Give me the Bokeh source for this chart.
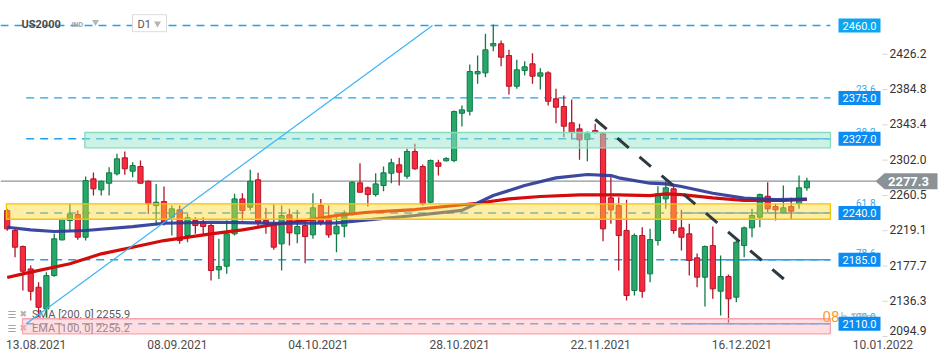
import numpy as np
from bokeh.plotting import figure
from bokeh.models import Range1d, FixedTicker, ColumnDataSource
from bokeh.core.properties import value
from bokeh.embed import file_html
from bokeh.resources import INLINE

# ---------------- data ----------------
open_ = [2242.8, 2219.3, 2200.6, 2174.3, 2152.8, 2127.4, 2166.5, 2208.4, 2231.1, 2238.1,
         2211.5, 2280.0, 2267.1, 2274.9, 2285.9, 2304.7, 2289.0, 2294.5, 2277.2, 2248.7,
         2253.4, 2235.0, 2243.6, 2213.5, 2231.1, 2229.1, 2225.2, 2173.2, 2177.5, 2215.5,
         2256.5, 2246.7, 2278.9, 2231.1, 2225.2, 2203.7, 2237.8, 2215.5, 2225.2, 2214.3,
         2248.7, 2233.1, 2215.5, 2224.4, 2238.9, 2275.3, 2269.5, 2261.6, 2272.2, 2286.6,
         2296.5, 2283.1, 2312.1, 2294.5, 2252.6, 2298.8, 2301.2, 2301.5, 2357.0, 2359.4,
         2403.3, 2404.4, 2436.1, 2438.5, 2424.8, 2388.7, 2407.1, 2415.0, 2400.5, 2404.4,
         2374.0, 2364.9, 2345.8, 2338.7, 2326.2, 2336.7, 2332.9, 2257.7, 2248.7, 2219.4,
         2149.0, 2213.5, 2168.5, 2207.6, 2256.5, 2268.3, 2222.5, 2215.5, 2187.3, 2164.6,
         2201.7, 2148.1, 2165.4, 2141.1, 2201.7, 2222.5, 2235.0, 2259.6, 2247.5, 2240.1,
         2247.5, 2250.7, 2269.5]
high = [2245.0, 2221.3, 2201.7, 2178.3, 2158.7, 2170.4, 2215.5, 2233.5, 2250.7, 2242.8,
        2282.7, 2287.4, 2278.0, 2293.7, 2309.4, 2312.1, 2299.5, 2301.5, 2278.0, 2274.1,
        2271.0, 2248.7, 2248.7, 2238.9, 2235.0, 2235.0, 2227.2, 2209.6, 2231.1, 2262.4,
        2263.1, 2290.6, 2287.1, 2246.0, 2249.9, 2248.7, 2244.8, 2243.6, 2229.1, 2263.1,
        2256.5, 2248.7, 2237.0, 2242.8, 2277.2, 2298.3, 2271.0, 2286.6, 2294.5, 2303.5,
        2304.7, 2315.2, 2321.1, 2296.8, 2302.7, 2302.3, 2305.4, 2360.2, 2366.1, 2414.2,
        2424.8, 2450.2, 2461.1, 2442.4, 2431.4, 2419.7, 2418.1, 2427.5, 2409.8, 2406.3,
        2385.7, 2377.8, 2373.1, 2344.6, 2335.5, 2344.6, 2334.0, 2281.9, 2258.4, 2255.4,
        2215.8, 2223.2, 2221.3, 2271.3, 2277.2, 2272.2, 2243.6, 2227.2, 2192.3, 2201.7,
        2224.0, 2190.0, 2167.7, 2207.6, 2224.0, 2244.8, 2262.8, 2276.0, 2250.7, 2272.2,
        2257.7, 2283.9, 2281.2]
low = [2219.0, 2188.0, 2148.9, 2137.2, 2117.6, 2117.6, 2165.0, 2207.6, 2219.4, 2208.4,
       2207.6, 2260.4, 2260.4, 2260.4, 2283.9, 2284.7, 2281.9, 2274.5, 2238.9, 2225.2,
       2225.2, 2213.5, 2203.7, 2205.6, 2215.5, 2214.0, 2160.7, 2162.6, 2168.5, 2213.5,
       2231.1, 2242.8, 2221.3, 2215.5, 2196.7, 2172.4, 2201.7, 2204.4, 2181.0, 2209.6,
       2225.2, 2210.8, 2193.9, 2211.5, 2237.0, 2264.0, 2247.5, 2259.3, 2265.5, 2274.9,
       2272.2, 2280.0, 2290.6, 2248.7, 2250.7, 2283.9, 2300.3, 2299.5, 2341.4, 2354.3,
       2391.5, 2399.3, 2429.8, 2412.2, 2379.0, 2385.7, 2401.3, 2391.5, 2384.8, 2366.1,
       2345.3, 2328.9, 2326.2, 2302.3, 2300.7, 2332.9, 2206.8, 2227.2, 2172.4, 2137.2,
       2143.1, 2140.4, 2158.7, 2201.7, 2244.8, 2215.5, 2195.9, 2166.5, 2152.8, 2130.2,
       2139.2, 2119.6, 2111.0, 2135.2, 2188.0, 2211.5, 2223.2, 2240.8, 2231.1, 2240.1,
       2231.9, 2244.8, 2266.0]
close = [2221.3, 2199.8, 2171.6, 2148.1, 2129.3, 2166.5, 2209.6, 2232.3, 2238.9, 2211.5,
         2278.0, 2268.3, 2277.2, 2287.1, 2303.5, 2291.8, 2295.6, 2274.9, 2250.7, 2252.6,
         2229.1, 2244.8, 2207.6, 2234.3, 2225.2, 2224.0, 2172.4, 2177.1, 2215.5, 2256.5,
         2242.8, 2277.2, 2229.1, 2227.2, 2199.8, 2237.0, 2216.6, 2224.0, 2212.3, 2246.0,
         2229.1, 2214.3, 2224.4, 2240.1, 2276.0, 2264.3, 2261.6, 2274.1, 2287.1, 2298.8,
         2287.8, 2312.1, 2291.8, 2250.7, 2301.5, 2294.8, 2303.9, 2359.0, 2361.0, 2406.0,
         2406.0, 2431.4, 2438.8, 2422.8, 2388.7, 2408.0, 2411.5, 2400.5, 2404.4, 2371.1,
         2364.1, 2341.8, 2334.7, 2325.8, 2332.9, 2334.7, 2221.3, 2243.6, 2213.5, 2143.1,
         2213.5, 2148.1, 2208.8, 2262.4, 2269.5, 2219.4, 2211.5, 2184.2, 2164.6, 2200.6,
         2150.9, 2165.4, 2139.2, 2205.6, 2222.5, 2237.0, 2261.6, 2244.8, 2243.6, 2246.0,
         2242.0, 2269.5, 2277.3]

date_labels = ["13.08.2021", "08.09.2021", "04.10.2021", "28.10.2021",
               "22.11.2021", "16.12.2021", "10.01.2022"]
date_label_idx = [0, 18, 36, 54, 72, 90, 108]
price_ticks = [2426.2, 2384.8, 2343.4, 2302.0, 2260.5, 2219.1, 2177.7, 2136.3, 2094.9]

sma_idx = [0, 2, 8, 12, 16, 20, 26, 30, 34, 38, 42, 46, 52, 60, 64, 68, 73, 78, 82, 84, 86, 90, 94, 99, 102]
sma_val = [2164.2, 2168.5, 2180.3, 2192.0, 2199.8, 2207.6, 2215.5, 2220.2, 2226.4, 2231.1, 2237.0,
           2240.8, 2244.0, 2251.4, 2256.5, 2259.3, 2261.2, 2261.2, 2260.4, 2262.4, 2261.6, 2257.7,
           2254.6, 2254.6, 2255.9]
ema_idx = [0, 3, 6, 10, 16, 20, 26, 30, 34, 38, 42, 46, 52, 58, 62, 66, 70, 74, 77, 78, 82, 84, 86,
           90, 94, 98, 102]
ema_val = [2223.2, 2220.2, 2218.2, 2219.4, 2224.0, 2227.9, 2229.1, 2228.7, 2227.9, 2227.9, 2228.4,
           2231.9, 2237.0, 2243.0, 2260.4, 2272.2, 2281.2, 2285.1, 2283.9, 2281.2, 2274.9, 2274.1,
           2271.0, 2263.1, 2257.3, 2255.7, 2256.2]
sma_last = 2255.9
ema_last = 2256.2
last_price = 2277.3

levels = [2460.0, 2375.0, 2327.0, 2240.0, 2185.0, 2110.0]
level_box_colors = ["#0aa6ef", "#0a8cf2", "#0a8cf2", "#0a8cf2", "#0a8cf2", "#0a8cf2"]
solid_levels = [2327.0, 2240.0, 2185.0, 2110.0]
fib_ratios = [0.236, 0.382, 0.618, 0.786, 1.0]
fib_labels = ["23.6", "38.2", "61.8", "78.6", "100.0"]
fib_x = [2.42, 54.25]
fib_y = [2110.0, 2460.0]
trend_x = [75.0, 100.0]
trend_y = [2349.7, 2155.1]
zone_left = [9.9, -0.1, 1.95]
zone_bottom = [2316.4, 2232.6, 2098.1]
zone_top = [2334.4, 2250.7, 2115.8]
zone_fill = ["#99e6cc", "#ffd633", "#ffb3bb"]
zone_alpha = [0.5, 0.45, 0.45]
zone_line = ["#86ddbd", "#f5c400", "#f4a5ad"]

# ---------------- geometry (frame = 946 x 337 px) ----------------
FW, FH = 946, 337
PXC = 7.84          # px per candle
PXV = 0.852         # px per index point
X0 = -6.7 / PXC
X1 = X0 + FW / PXC
Y1 = 2460.0 + 25 / PXV
Y0 = Y1 - FH / PXV
RIGHT = 105.0


def ix(xr):
    return X0 + xr / PXC


def vy(yr):
    return Y1 - yr / PXV


FONT = value("Roboto")

p = figure(width=FW, height=356, output_backend="svg", toolbar_location=None,
           x_range=Range1d(X0, X1), y_range=Range1d(Y0, Y1),
           y_axis_location=None, min_border_left=0, min_border_top=0,
           min_border_right=0, min_border_bottom=356 - FH)
p.xgrid.visible = False
p.ygrid.visible = False
p.outline_line_color = None
p.background_fill_color = "white"
p.border_fill_color = "white"

# x axis (date labels sit just right of their candle)
xa = p.xaxis[0]
xt = [i + 3.7 for i in date_label_idx]
xa.ticker = FixedTicker(ticks=xt)
xa.major_label_overrides = {t: lab for t, lab in zip(xt, date_labels)}
xa.axis_line_color = None
xa.major_tick_line_color = None
xa.minor_tick_line_color = None
xa.major_label_text_font = "Roboto"
xa.major_label_text_font_size = "12px"
xa.major_label_text_color = "#4d4d4d"
xa.major_label_standoff = -4

# price scale on the right (inside the frame so the last-price tag can overlap it)
p.segment(x0=[ix(882)] * len(price_ticks), y0=price_ticks, x1=[ix(887)] * len(price_ticks),
          y1=price_ticks, line_color="#d5d5d5", line_width=1)
label_y = [max(t, vy(331)) for t in price_ticks]
p.text(x=[ix(889)] * len(price_ticks), y=label_y, text=[f"{t:.1f}" for t in price_ticks],
       text_font=FONT, text_font_size="12px", text_color="#333333", text_align="left",
       text_baseline="middle", y_offset=-1)

# level lines (dashed fib / horizontal)
fib_levels = [fib_y[1] - r * (fib_y[1] - fib_y[0]) for r in fib_ratios]
for lv in levels:
    x_start = X0 if lv == levels[0] else fib_x[0]
    p.segment(x0=[x_start], y0=[lv], x1=[RIGHT], y1=[lv], line_color="#1fa2ee",
              line_width=1.4, line_dash="8 6")
for lv in solid_levels:
    p.segment(x0=[85.9], y0=[lv], x1=[RIGHT], y1=[lv], line_color="#2e9bf0", line_width=1.5)

# last price line
p.segment(x0=[X0], y0=[last_price], x1=[ix(876)], y1=[last_price], line_color="#8c959b", line_width=1.3)

# legend text (EMA row goes under the pink zone)
legend_rows = [(313.5, f"SMA [200,  0]  {sma_last:.1f}"), (327.5, f"EMA [100,  0]  {ema_last:.1f}")]
for yr, txt in legend_rows:
    p.text(x=[ix(7)], y=[vy(yr)], text=["\u2630"], text_font=value("DejaVu Sans"), text_font_size="10px",
           text_color="#a5a5a5", text_baseline="middle", text_align="left")
    p.text(x=[ix(19)], y=[vy(yr)], text=["\u2716"], text_font=value("DejaVu Sans"), text_font_size="9px",
           text_color="#b0b0b0", text_baseline="middle", text_align="left")
    p.text(x=[ix(31.5)], y=[vy(yr)], text=[txt], text_font=FONT, text_font_size="11px",
           text_color="#5a5a5a", text_baseline="middle", text_align="left")

# candles
o = np.array(open_)
c = np.array(close)
h = np.array(high)
lo = np.array(low)
idx = np.arange(len(o))
up = c >= o
for mask, fill, edge in [(up, "#27a86b", "#137a46"), (~up, "#f72a3e", "#b2162a")]:
    src = ColumnDataSource(dict(x=idx[mask], top=np.maximum(o, c)[mask], bottom=np.minimum(o, c)[mask],
                                hi=h[mask], lo=lo[mask]))
    p.segment(x0="x", y0="hi", x1="x", y1="lo", source=src, line_color=edge, line_width=1.3)
    p.vbar(x="x", width=0.66, top="top", bottom="bottom", source=src,
           fill_color=fill, line_color=edge, line_width=1)

# moving averages
p.line(sma_idx, sma_val, line_color="#d40b0b", line_width=3.2)
p.line(ema_idx, ema_val, line_color="#2c3a97", line_width=3.2, line_alpha=0.92)

# zones
p.quad(left=zone_left, right=[RIGHT] * 3, bottom=zone_bottom, top=zone_top,
       fill_color=zone_fill, fill_alpha=zone_alpha, line_color=zone_line, line_width=1.3)

# fib diagonal and downtrend line
p.line(fib_x, fib_y, line_color="#3cb4f5", line_width=1.2)
p.line(trend_x, trend_y, line_color="#2e3a40", line_width=3, line_dash="15 14")

# fib ratio labels
for lv, lab in zip(fib_levels, fib_labels):
    p.text(x=[ix(875)], y=[lv], text=[lab], text_font=FONT, text_font_size="10px",
           text_color="#3aa6ec", text_align="right", text_baseline="bottom", y_offset=-3)

# countdown
p.text(x=[ix(822)], y=[vy(316)], text=["08"], text_font=FONT, text_font_size="15px",
       text_color="#ff9a1f", text_align="left", text_baseline="middle")
p.text(x=[ix(840)], y=[vy(317)], text=["h 30m"], text_font=FONT, text_font_size="13px",
       text_color="#bdbdbd", text_align="left", text_baseline="middle")

# level boxes on the right
p.rect(x=[ix(859)] * len(levels), y=levels, width=42, height=14, width_units="screen",
       height_units="screen", fill_color=level_box_colors, line_color=None)
p.text(x=[ix(859)] * len(levels), y=levels, text=[f"{lv:.1f}" for lv in levels], text_font=FONT,
       text_font_size="11px", text_color="white", text_align="center", text_baseline="middle")

# header
p.text(x=[ix(21)], y=[vy(23.5)], text=["US2000"], text_font=FONT, text_font_size="11px",
       text_font_style="bold", text_color="#4a4a4a", text_align="left", text_baseline="middle")
p.text(x=[ix(71)], y=[vy(24)], text=["IND"], text_font=FONT, text_font_size="7px",
       text_font_style="bold", text_color="#a0a6ab", text_align="left", text_baseline="middle")
p.scatter(x=[ix(95)], y=[vy(21.5)], marker="inverted_triangle", size=7, fill_color="#b5b5b5",
          line_color=None)
p.rect(x=[ix(149)], y=[vy(22.7)], width=34, height=17, width_units="screen", height_units="screen",
       fill_color="white", line_color="#dcdcdc", line_width=1)
p.text(x=[ix(137)], y=[vy(23.5)], text=["D1"], text_font=FONT, text_font_size="11px",
       text_color="#555555", text_align="left", text_baseline="middle")
p.scatter(x=[ix(157)], y=[vy(23)], marker="inverted_triangle", size=7, fill_color="#b5b5b5",
          line_color=None)

# last price tag (arrow-shaped box over the price scale)
tag_half = 8 / PXV
p.patch(x=[ix(875), ix(884), ix(937), ix(937), ix(884)],
        y=[last_price, last_price + tag_half, last_price + tag_half, last_price - tag_half,
           last_price - tag_half],
        fill_color="#8a9298", line_color=None)
p.text(x=[ix(908)], y=[last_price], text=[f"{last_price:.1f}"], text_font=FONT, text_font_size="13px",
       text_font_style="bold", text_color="white", text_align="center", text_baseline="middle")

open("out.html", "w").write(file_html(p, INLINE))
